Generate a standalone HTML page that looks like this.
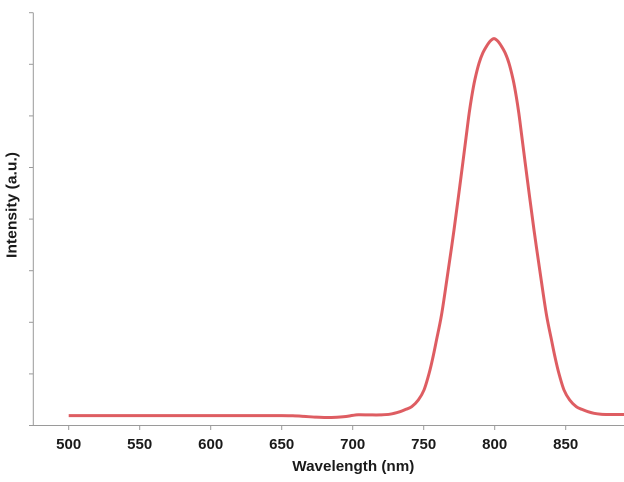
<!DOCTYPE html>
<html>
<head>
<meta charset="utf-8">
<style>
  html, body { margin: 0; padding: 0; background: #ffffff; }
  body { width: 624px; height: 482px; overflow: hidden; }
  svg { display: block; }
  text { font-family: "Liberation Sans", Arial, sans-serif; font-weight: bold; fill: #1a1a1a; }
</style>
</head>
<body>
<svg width="624" height="482" viewBox="0 0 624 482" xmlns="http://www.w3.org/2000/svg">
  <rect x="0" y="0" width="624" height="482" fill="#ffffff"/>

  <line x1="33.3" y1="12.7" x2="33.3" y2="425.5" stroke="#9a9a9a" stroke-width="1"/>
  <g stroke="#9a9a9a" stroke-width="1">
    <line x1="29" y1="12.7" x2="33.3" y2="12.7"/>
    <line x1="29" y1="64.3" x2="33.3" y2="64.3"/>
    <line x1="29" y1="115.9" x2="33.3" y2="115.9"/>
    <line x1="29" y1="167.5" x2="33.3" y2="167.5"/>
    <line x1="29" y1="219.1" x2="33.3" y2="219.1"/>
    <line x1="29" y1="270.7" x2="33.3" y2="270.7"/>
    <line x1="29" y1="322.3" x2="33.3" y2="322.3"/>
    <line x1="29" y1="373.9" x2="33.3" y2="373.9"/>
  </g>

  <line x1="29" y1="425.5" x2="624" y2="425.5" stroke="#9a9a9a" stroke-width="1"/>
  <g stroke="#9a9a9a" stroke-width="1">
    <line x1="68.7" y1="425.5" x2="68.7" y2="430"/>
    <line x1="139.7" y1="425.5" x2="139.7" y2="430"/>
    <line x1="210.7" y1="425.5" x2="210.7" y2="430"/>
    <line x1="281.7" y1="425.5" x2="281.7" y2="430"/>
    <line x1="352.7" y1="425.5" x2="352.7" y2="430"/>
    <line x1="423.7" y1="425.5" x2="423.7" y2="430"/>
    <line x1="494.7" y1="425.5" x2="494.7" y2="430"/>
    <line x1="565.7" y1="425.5" x2="565.7" y2="430"/>
  </g>

  <g font-size="15" text-anchor="middle">
    <text x="68.7" y="449">500</text>
    <text x="139.7" y="449">550</text>
    <text x="210.7" y="449">600</text>
    <text x="281.7" y="449">650</text>
    <text x="352.7" y="449">700</text>
    <text x="423.7" y="449">750</text>
    <text x="494.7" y="449">800</text>
    <text x="565.7" y="449">850</text>
    <text x="636.7" y="449">900</text>
  </g>

  <text x="353.3" y="471" font-size="15" text-anchor="middle" textLength="122" lengthAdjust="spacingAndGlyphs">Wavelength (nm)</text>
  <text transform="translate(16.7,205) rotate(-90)" x="0" y="0" font-size="15" text-anchor="middle" textLength="106" lengthAdjust="spacingAndGlyphs">Intensity (a.u.)</text>

  <path id="curve" fill="none" stroke="#de5d62" stroke-width="3" stroke-linejoin="round"
    d="M68.7,415.6 L281.7,415.6 L304,416.4 L326,417.5 L346,416.5 L352.7,415.4 L358.4,414.8 L380,414.9 L390,414.2 L400,411.7 L411.7,406.7 L418.3,400 L424,390 L429.2,373 L436.5,340 L441.5,315 L446.8,280 L454,230 L460.6,180 L467,130 L471.7,96.7 L479,63.3 L487,45.5 L494,38.6 L501,45.5 L509,63.3 L516.3,96.7 L521,130 L527.4,180 L534,230 L541.2,280 L546.5,315 L551.5,340 L558.8,373 L564,390 L569.7,400 L576.3,406.7 L588,411.7 L601,414.2 L624,414.5"/>
</svg>
<script>
(function(){
  var p = [];
  for (var x = 68.7; x < 281; x += 12) p.push([x, 415.6]);
  p.push([281.7,415.6]);
  var leftTail = [[293,415.8],[304,416.4],[315,417.1],[326,417.5],[337,417.2],[346,416.5],
    [352.7,415.4],[358.4,414.8],[369.7,414.9],[380,414.9],[390,414.2],[400,411.7],[406,409.3]];
  p = p.concat(leftTail);
  var hw = [[406.7,82.3],[400,75.7],[390,70],[373,64.8],[357,61],[340,57.5],[315,52.5],
    [280,47.2],[230,40],[180,33.4],[130,27],[113,24.8],[96.7,22.3],[80,19.2],[63.3,15],
    [53,11.2],[45.5,7],[40.8,3.5]];
  var c = 494;
  for (var i = 0; i < hw.length; i++) p.push([c - hw[i][1], hw[i][0]]);
  p.push([c, 38.6]);
  for (var j = hw.length - 1; j >= 0; j--) p.push([c + hw[j][1], hw[j][0]]);
  var rightTail = [[582,409.4],[588,411.7],[594,413.3],[601,414.2],[609,414.5],[616,414.5],[624,414.5]];
  p = p.concat(rightTail);
  var d = "M" + p[0][0].toFixed(2) + "," + p[0][1].toFixed(2);
  for (var k = 0; k < p.length - 1; k++) {
    var p0 = p[k > 0 ? k - 1 : 0], p1 = p[k], p2 = p[k + 1], p3 = p[k + 2 < p.length ? k + 2 : p.length - 1];
    var c1x = p1[0] + (p2[0] - p0[0]) / 6, c1y = p1[1] + (p2[1] - p0[1]) / 6;
    var c2x = p2[0] - (p3[0] - p1[0]) / 6, c2y = p2[1] - (p3[1] - p1[1]) / 6;
    d += " C" + c1x.toFixed(2) + "," + c1y.toFixed(2) + " " + c2x.toFixed(2) + "," + c2y.toFixed(2) + " " + p2[0].toFixed(2) + "," + p2[1].toFixed(2);
  }
  document.getElementById("curve").setAttribute("d", d);
})();
</script>
</body>
</html>
